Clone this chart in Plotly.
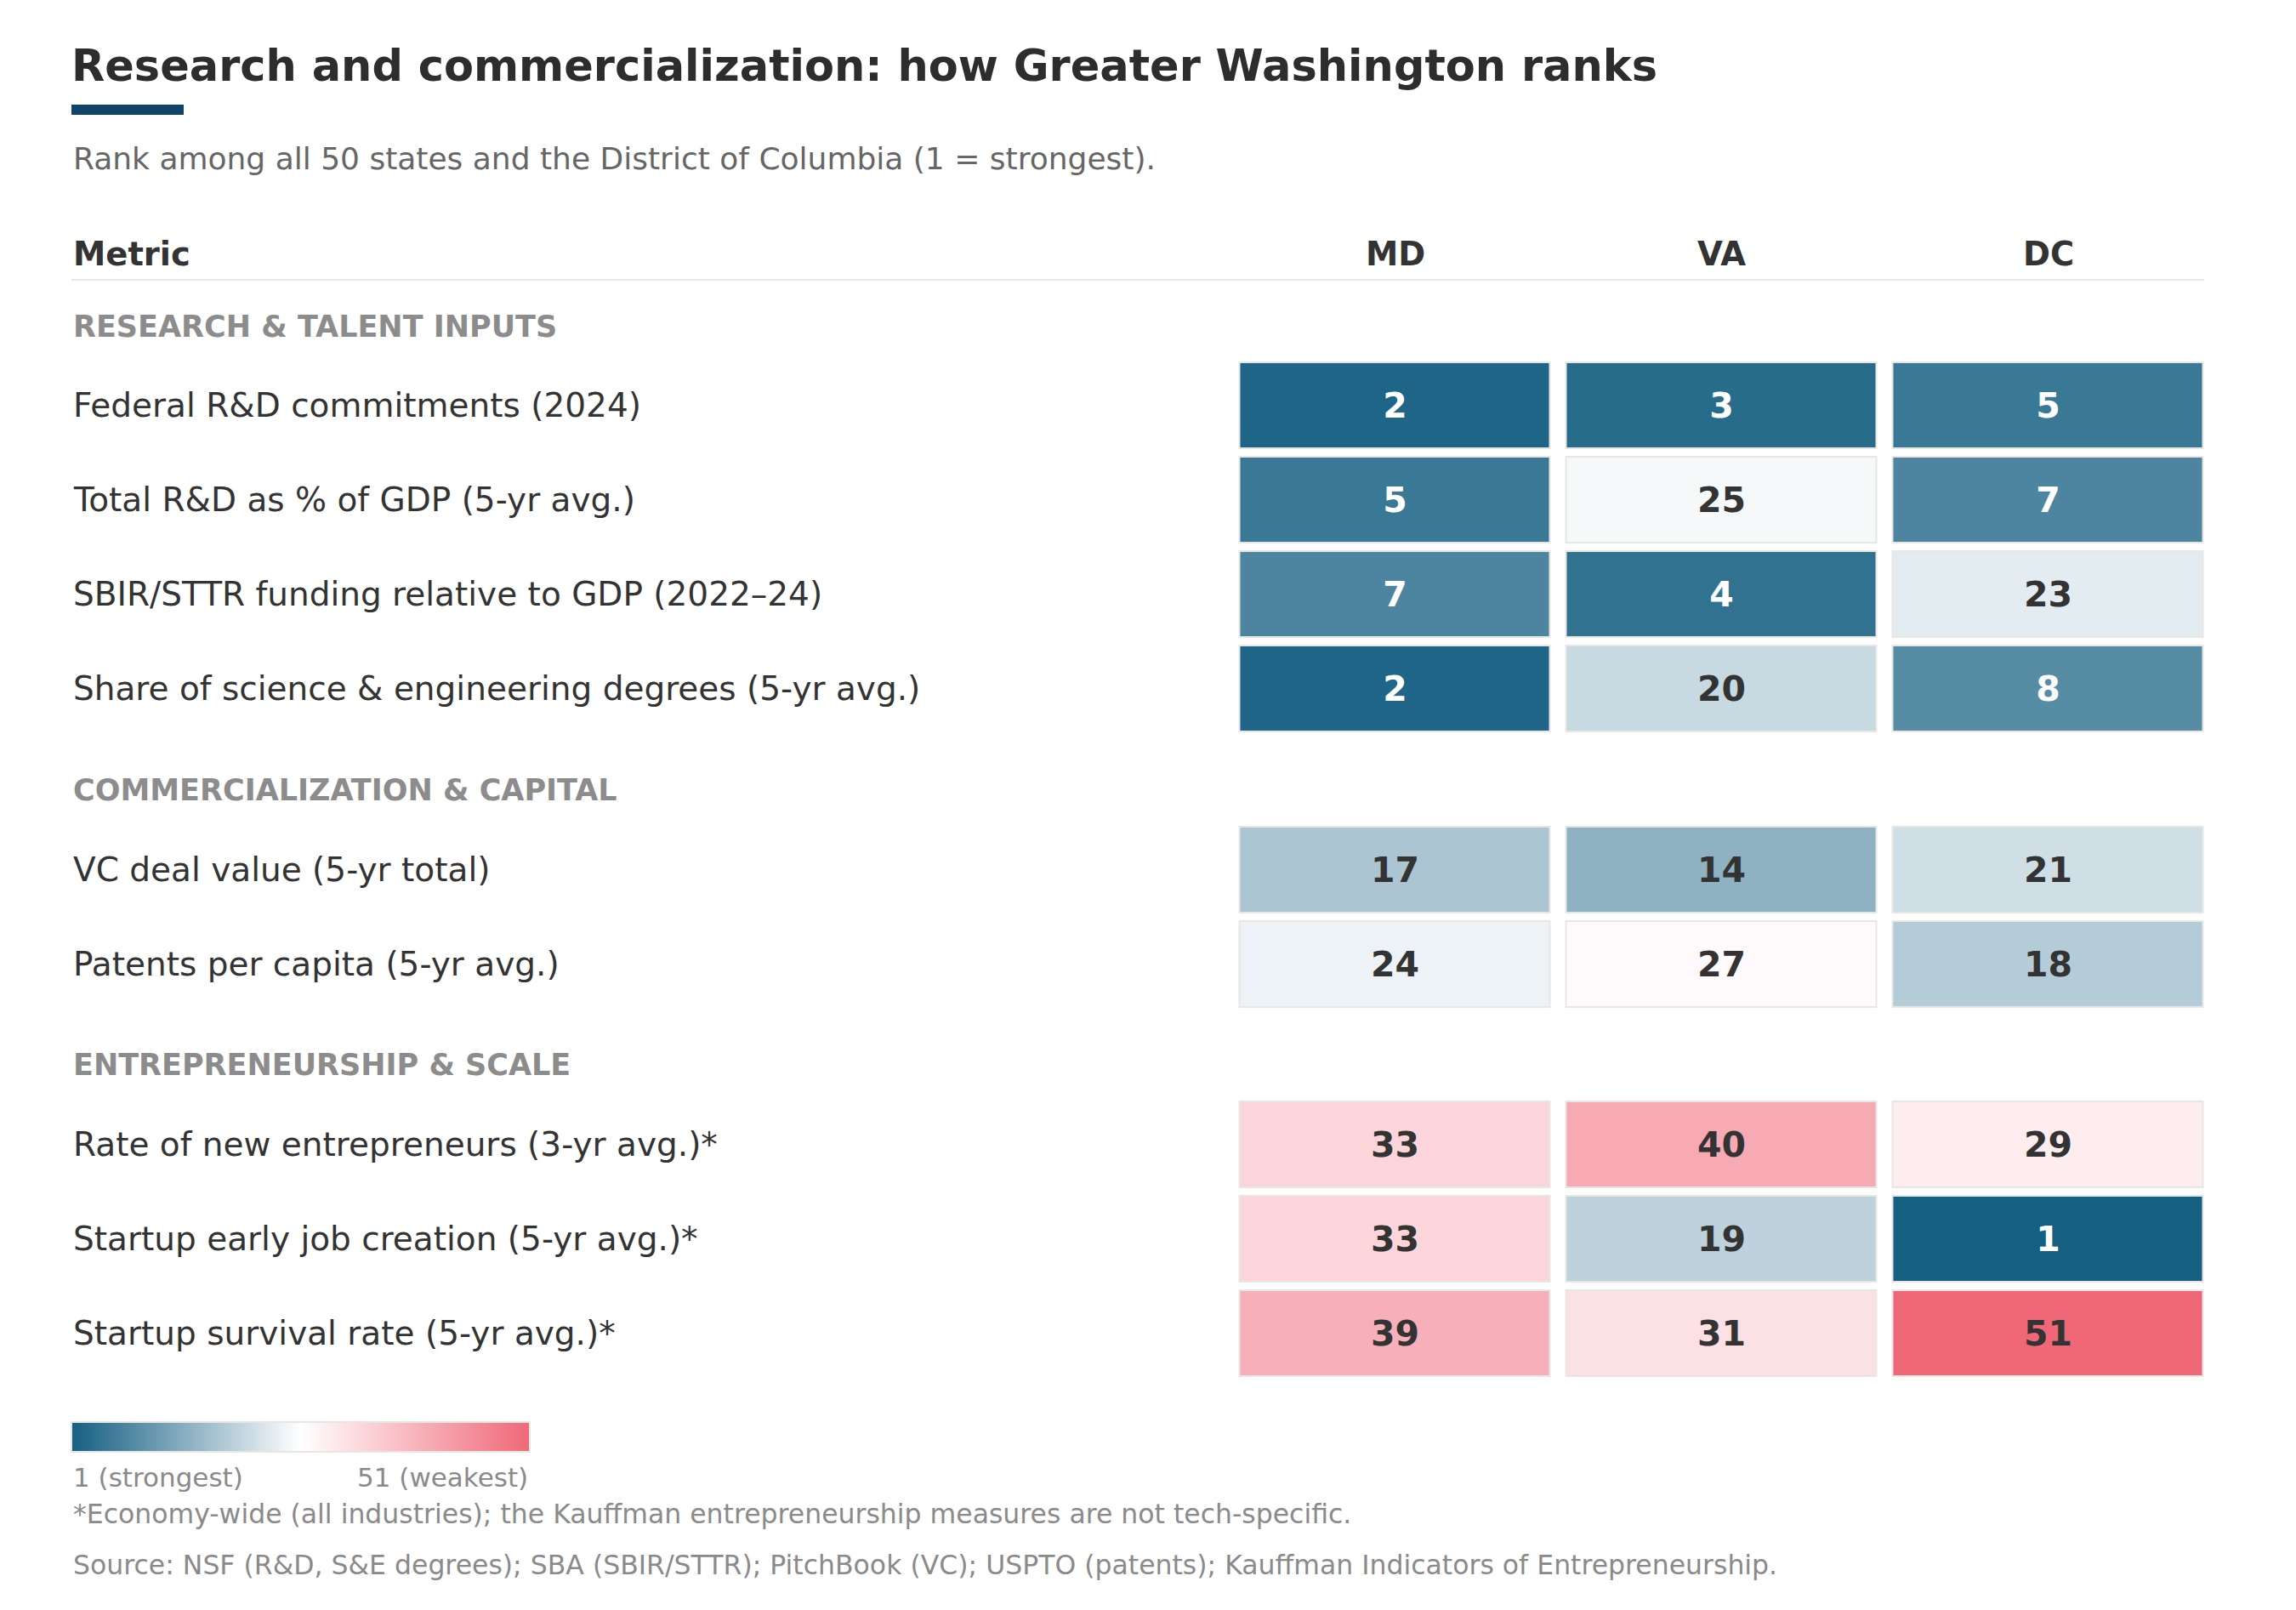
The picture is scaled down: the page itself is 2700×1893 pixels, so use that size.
import plotly.graph_objects as go

# ---- data -------------------------------------------------------------
states = ["MD", "VA", "DC"]

section_names = ["RESEARCH & TALENT INPUTS", "COMMERCIALIZATION & CAPITAL", "ENTREPRENEURSHIP & SCALE"]

research_metrics = ["Federal R&D commitments (2024)",
                    "Total R&D as % of GDP (5-yr avg.)",
                    "SBIR/STTR funding relative to GDP (2022–24)",
                    "Share of science & engineering degrees (5-yr avg.)"]
research_md = [2, 5, 7, 2]
research_va = [3, 25, 4, 20]
research_dc = [5, 7, 23, 8]

capital_metrics = ["VC deal value (5-yr total)",
                   "Patents per capita (5-yr avg.)"]
capital_md = [17, 24]
capital_va = [14, 27]
capital_dc = [21, 18]

entre_metrics = ["Rate of new entrepreneurs (3-yr avg.)*",
                 "Startup early job creation (5-yr avg.)*",
                 "Startup survival rate (5-yr avg.)*"]
entre_md = [33, 33, 39]
entre_va = [40, 19, 31]
entre_dc = [29, 1, 51]

rank_min, rank_max = 1, 51
legend_labels = ["1 (strongest)", "51 (weakest)"]

title = "Research and commercialization: how Greater Washington ranks"
subtitle = "Rank among all 50 states and the District of Columbia (1 = strongest)."
footnote = "*Economy-wide (all industries); the Kauffman entrepreneurship measures are not tech-specific."
source = "Source: NSF (R&D, S&E degrees); SBA (SBIR/STTR); PitchBook (VC); USPTO (patents); Kauffman Indicators of Entrepreneurship."

# ---- layout helpers ---------------------------------------------------
# the page body keeps its default 8px margin, so the figure starts at (8, 8)
OFF = 8
W, H = 2700 - OFF, 1893 - OFF
FONT = "DejaVu Sans"
DARK = "#333333"


def px(x):
    return (x - OFF) / W


def py(y):
    return 1 - (y - OFF) / H


colorscale = [[0, "#155f82"], [0.5, "#ffffff"], [1, "#f06878"]]
border = "#e8e6e3"
text_drop = 4  # digits sit a touch lower than the line-box centre

groups = [
    (research_metrics, [research_md, research_va, research_dc], (421, 865)),
    (capital_metrics, [capital_md, capital_va, capital_dc], (967, 1189)),
    (entre_metrics, [entre_md, entre_va, entre_dc], (1290, 1623)),
]
section_y = [384, 929, 1252]

fig = go.Figure()
annotations = []
n = len(groups)

for gi, (metrics, cols, (top, bottom)) in enumerate(groups):
    yname = "y" if gi == 0 else f"y{gi + 1}"
    tname = f"y{gi + 1 + n}"
    z = [[cols[c][r] for c in range(len(states))] for r in range(len(metrics))]

    # grey outline underneath every cell
    fig.add_trace(go.Heatmap(
        x=states, y=metrics, z=[[0] * len(states) for _ in metrics],
        colorscale=[[0, border], [1, border]], showscale=False,
        xgap=17, ygap=8, hoverinfo="skip", xaxis="x", yaxis=yname))

    cb = None
    if gi == 0:
        cb = dict(orientation="h", x=px(84), xanchor="left", y=py(1672), yanchor="top",
                  len=539, lenmode="pixels", thickness=35, thicknessmode="pixels",
                  xpad=0, ypad=0, outlinewidth=2, outlinecolor=border,
                  showticklabels=False, ticks="", borderwidth=0)
    fig.add_trace(go.Heatmap(
        x=states, y=metrics, z=z, zmin=rank_min, zmax=rank_max,
        colorscale=colorscale, showscale=(gi == 0), colorbar=cb,
        xgap=21, ygap=12, hovertemplate="%{y}<br>%{x}: %{z}<extra></extra>",
        xaxis="x", yaxis=yname))

    xs, ys, txt, colors = [], [], [], []
    for r, m in enumerate(metrics):
        for c, s in enumerate(states):
            xs.append(s)
            ys.append(m)
            txt.append(str(cols[c][r]))
            colors.append("#ffffff" if cols[c][r] <= 10 else DARK)
    fig.add_trace(go.Scatter(
        x=xs, y=ys, text=txt, mode="text", hoverinfo="skip",
        textfont=dict(family=FONT, size=41, color=colors, weight="bold"),
        xaxis="x", yaxis=tname, showlegend=False))

    base = dict(range=[len(metrics) - 0.5, -0.5], type="category", categoryorder="array",
                categoryarray=metrics, visible=False, anchor="x", fixedrange=True)
    fig.update_layout(**{
        ("yaxis" if gi == 0 else f"yaxis{gi + 1}"): dict(base, domain=[py(bottom), py(top)]),
        f"yaxis{gi + 1 + n}": dict(base, domain=[py(bottom + text_drop), py(top + text_drop)]),
    })

    for m in metrics:
        annotations.append(dict(xref="paper", yref=yname, x=px(84), y=m, text=m,
                                xanchor="left", yanchor="middle", showarrow=False,
                                font=dict(family=FONT, size=39, color=DARK)))
    annotations.append(dict(xref="paper", yref="paper", x=px(84), y=py(section_y[gi]),
                            text=section_names[gi], xanchor="left", yanchor="middle",
                            showarrow=False,
                            font=dict(family=FONT, size=35, color="#8c8c8c", weight="bold")))

# column headers
annotations.append(dict(xref="paper", yref="paper", x=px(84), y=py(298), text="Metric",
                        xanchor="left", yanchor="middle", showarrow=False,
                        font=dict(family=FONT, size=38.5, color=DARK, weight="bold")))
for s in states:
    annotations.append(dict(xref="x", yref="paper", x=s, y=py(298), text=s,
                            xanchor="center", yanchor="middle", showarrow=False,
                            font=dict(family=FONT, size=38.5, color=DARK, weight="bold")))

# subtitle, legend labels, notes
annotations.append(dict(xref="paper", yref="paper", x=px(84), y=py(186), text=subtitle,
                        xanchor="left", yanchor="middle", showarrow=False,
                        font=dict(family=FONT, size=36, color="#666666")))
annotations.append(dict(xref="paper", yref="paper", x=px(84), y=py(1737), text=legend_labels[0],
                        xanchor="left", yanchor="middle", showarrow=False,
                        font=dict(family=FONT, size=31, color="#8a8a8a")))
annotations.append(dict(xref="paper", yref="paper", x=px(623), y=py(1737), text=legend_labels[1],
                        xanchor="right", yanchor="middle", showarrow=False,
                        font=dict(family=FONT, size=31, color="#8a8a8a")))
annotations.append(dict(xref="paper", yref="paper", x=px(84), y=py(1780), text=footnote,
                        xanchor="left", yanchor="middle", showarrow=False,
                        font=dict(family=FONT, size=31.5, color="#8a8a8a")))
annotations.append(dict(xref="paper", yref="paper", x=px(84), y=py(1840), text=source,
                        xanchor="left", yanchor="middle", showarrow=False,
                        font=dict(family=FONT, size=31.5, color="#8a8a8a")))

fig.update_layout(
    width=W, height=H,
    margin=dict(l=0, r=0, t=0, b=0),
    paper_bgcolor="white", plot_bgcolor="rgba(0,0,0,0)",
    showlegend=False,
    title=dict(text=title, x=px(84), xanchor="left", xref="paper",
               y=py(77), yanchor="middle", yref="container",
               font=dict(family=FONT, size=51, color="#2d2d2d", weight="bold")),
    xaxis=dict(domain=[px(1448.5), px(2600.5)], range=[-0.5, 2.5], type="category",
               categoryorder="array", categoryarray=states, visible=False, fixedrange=True),
    annotations=annotations,
    shapes=[
        dict(type="rect", xref="paper", yref="paper", x0=px(84), x1=px(216),
             y0=py(135), y1=py(123), fillcolor="#10436a", line_width=0),
        dict(type="line", xref="paper", yref="paper", x0=px(84), x1=px(2592),
             y0=py(329), y1=py(329), line=dict(color="#e8e8e8", width=2)),
    ],
)

fig.write_html("out.html")
